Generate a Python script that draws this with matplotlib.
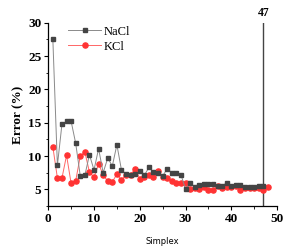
import matplotlib
matplotlib.use("Agg")
import matplotlib.pyplot as plt
from matplotlib.ticker import MultipleLocator

nacl_x = list(range(1, 48))
nacl_y = [27.6, 8.6, 14.8, 15.2, 15.2, 11.9, 7.0, 7.1, 10.2, 7.9,
          11.1, 7.5, 9.7, 8.5, 11.7, 7.9, 7.3, 7.2, 7.3, 7.7,
          7.1, 8.3, 7.6, 7.4, 7.0, 8.1, 7.5, 7.5, 7.2, 5.0,
          6.0, 5.4, 5.6, 5.8, 5.8, 5.8, 5.5, 5.5, 6.0, 5.5,
          5.7, 5.7, 5.4, 5.4, 5.4, 5.5, 5.5]
kcl_x = list(range(1, 49))
kcl_y = [11.4, 6.7, 6.7, 10.1, 5.9, 6.3, 10.0, 10.6, 7.6, 6.8,
         8.8, 7.2, 6.2, 6.1, 7.3, 6.4, 7.2, 7.2, 8.1, 6.6,
         6.9, 7.1, 6.8, 7.7, 6.9, 6.7, 6.3, 6.0, 6.0, 6.0,
         5.1, 5.2, 5.1, 5.4, 4.9, 4.9, 5.5, 5.2, 5.3, 5.4,
         5.5, 4.9, 5.25, 5.25, 5.15, 5.15, 4.9, 5.4]
marker_x = 47
x_ticks = [0, 10, 20, 30, 40, 50]
y_ticks = [5, 10, 15, 20, 25, 30]

serif = ['Liberation Serif', 'DejaVu Serif']

fig = plt.figure(figsize=(2.96, 2.5), dpi=100)
ax = fig.add_axes([0.163, 0.176, 0.773, 0.733])

ax.plot(nacl_x, nacl_y, '-', color='#8a8a8a', lw=0.7, marker='s', ms=3.5,
        mfc='#444444', mec='#444444', label='NaCl', zorder=3)
ax.plot(kcl_x, kcl_y, '-', color='#ff6666', lw=0.7, marker='o', ms=3.7,
        mfc='#ff3333', mec='#ff3333', label='KCl', zorder=2)

ax.axvline(marker_x, color='#444444', lw=1.0, zorder=1)
ax.text(marker_x, 30.5, str(marker_x), ha='center', va='bottom',
        fontfamily=serif, fontweight='bold', fontsize=8.5)

ax.set_xlim(0, 50)
ax.set_ylim(2.5, 30)
ax.set_xticks(x_ticks)
ax.set_yticks(y_ticks)
ax.xaxis.set_minor_locator(MultipleLocator(5))
ax.yaxis.set_minor_locator(MultipleLocator(2.5))
ax.spines['top'].set_visible(False)
ax.spines['right'].set_visible(False)
for s in ['left', 'bottom']:
    ax.spines[s].set_linewidth(0.9)
ax.tick_params(which='major', direction='out', length=3, width=0.8, pad=2)
ax.tick_params(which='minor', direction='out', length=1.8, width=0.6)
for lab in ax.get_xticklabels() + ax.get_yticklabels():
    lab.set_fontfamily(serif)
    lab.set_fontweight('bold')
    lab.set_fontsize(9.5)

ax.set_xlabel('Simplex', fontfamily='DejaVu Sans', fontsize=6, labelpad=9)
ax.set_ylabel('Error (%)', fontfamily=serif, fontweight='bold', fontsize=9.5, labelpad=3)

leg = ax.legend(loc='upper left', bbox_to_anchor=(0.055, 1.025), frameon=False,
                prop={'family': serif, 'size': 9}, handlelength=2.6,
                handletextpad=0.25, labelspacing=0.25, borderaxespad=0.2)

fig.savefig('out.png', dpi=100)
